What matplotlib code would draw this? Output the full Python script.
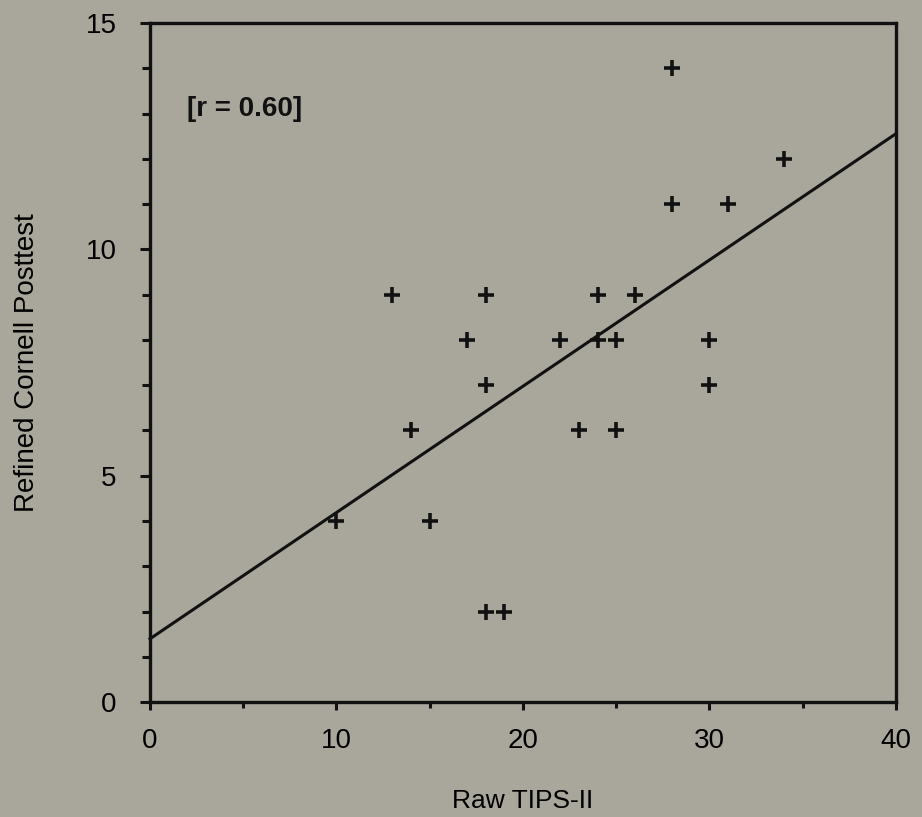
import numpy as np
import matplotlib
matplotlib.use("Agg")
import matplotlib.pyplot as plt
from matplotlib.ticker import MultipleLocator

# scores per student
raw_tips = [10, 13, 14, 15, 17, 18, 18, 18, 19, 22, 23,
            24, 24, 25, 25, 26, 28, 28, 30, 30, 31, 34]
cornell_post = [4, 9, 6, 4, 8, 9, 7, 2, 2, 8, 6,
                9, 8, 8, 6, 9, 14, 11, 8, 7, 11, 12]
r_label = "[r = 0.60]"

plt.rcParams['font.family'] = ['Liberation Sans', 'DejaVu Sans']
bg = '#a9a69c'
ink = '#111111'

fig = plt.figure(figsize=(9.22, 8.17), dpi=100, facecolor=bg)
ax = fig.add_axes([0.1627, 0.1407, 0.809, 0.831], facecolor=bg)

x = np.array(raw_tips, dtype=float)
y = np.array(cornell_post, dtype=float)
ax.plot(x, y, linestyle='none', marker='+', markersize=12,
        markeredgewidth=2.6, color=ink)

# least-squares line across the whole x range
slope, intercept = np.polyfit(x, y, 1)
xs = np.array([0, 40])
ax.plot(xs, intercept + slope * xs, color=ink, lw=2.2, clip_on=False)

ax.set_xlim(0, 40)
ax.set_ylim(0, 15)
ax.xaxis.set_major_locator(MultipleLocator(10))
ax.xaxis.set_minor_locator(MultipleLocator(5))
ax.yaxis.set_major_locator(MultipleLocator(5))
ax.yaxis.set_minor_locator(MultipleLocator(1))

for s in ax.spines.values():
    s.set_linewidth(2.4)
    s.set_color(ink)

ax.tick_params(axis='both', which='both', direction='out', color=ink,
               width=2.2, top=False, right=False)
ax.tick_params(axis='x', which='major', length=6, pad=13, labelsize=20)
ax.tick_params(axis='x', which='minor', length=4)
ax.tick_params(axis='y', which='major', length=7, pad=17, labelsize=20)
ax.tick_params(axis='y', which='minor', length=6)

ax.set_xlabel("Raw TIPS-II", fontsize=19, labelpad=25)
ax.set_ylabel("Refined Cornell Posttest", fontsize=20, labelpad=33)

ax.text(2.0, 13.1, r_label, fontsize=20, fontweight='bold',
        ha='left', va='center', color=ink)

fig.savefig("out.png", dpi=100, facecolor=bg)
